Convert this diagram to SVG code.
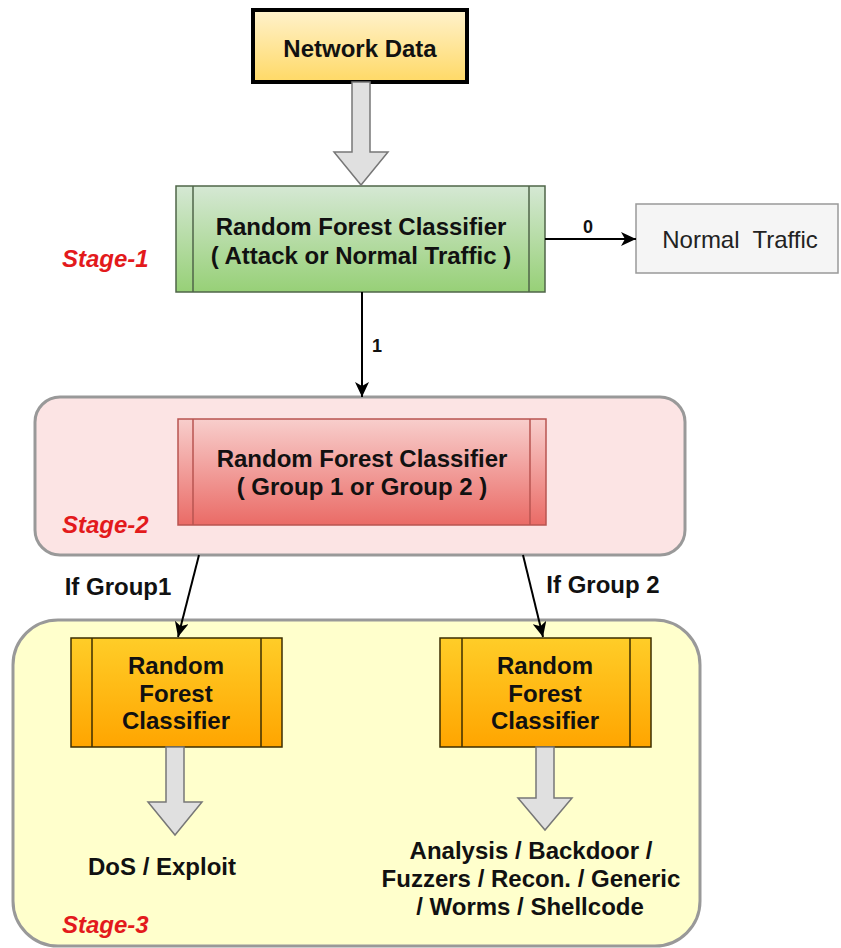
<svg xmlns="http://www.w3.org/2000/svg" width="841" height="948" viewBox="0 0 841 948">
<defs>
<linearGradient id="gYel" x1="0" y1="0" x2="0" y2="1"><stop offset="0" stop-color="#fff2cc"/><stop offset="1" stop-color="#ffd966"/></linearGradient>
<linearGradient id="gGreen" x1="0" y1="0" x2="0" y2="1"><stop offset="0" stop-color="#d5e8d4"/><stop offset="1" stop-color="#97d077"/></linearGradient>
<linearGradient id="gRed" x1="0" y1="0" x2="0" y2="1"><stop offset="0" stop-color="#f8cecc"/><stop offset="1" stop-color="#ea6b66"/></linearGradient>
<linearGradient id="gOrange" x1="0" y1="0" x2="0" y2="1"><stop offset="0" stop-color="#ffcd28"/><stop offset="1" stop-color="#ffa500"/></linearGradient>
<marker id="arr" markerUnits="userSpaceOnUse" markerWidth="16" markerHeight="14" refX="15" refY="7" orient="auto">
<path d="M0,0 L15,7 L0,14 L4,7 Z" fill="#000"/>
</marker>
<style>
text{font-family:"Liberation Sans",Arial,Helvetica,sans-serif;text-anchor:middle;}
.b{font-size:24px;font-weight:bold;fill:#111;}
.r{font-size:24px;fill:#222;}
.stage{font-size:24px;font-weight:bold;font-style:italic;fill:#e31a1c;text-anchor:start;}
.lbl{font-size:18px;font-weight:bold;fill:#111;}
.cont{stroke:#999;stroke-width:3;}
.hollow{fill:#e0e0e0;stroke:#777;stroke-width:1.5;}
.edge{stroke:#000;stroke-width:2;fill:none;marker-end:url(#arr);}
</style>
</defs>

<g id="stage2-container">
<rect class="cont" x="35" y="397" width="650" height="158" rx="25" fill="#fce4e4"/>
<text class="stage" x="62" y="533">Stage-2</text>
</g>
<g id="stage3-container">
<rect class="cont" x="13" y="620" width="687" height="326" rx="45" fill="#ffffcc"/>
<text class="stage" x="62" y="933">Stage-3</text>
</g>

<g id="network-data">
<rect x="253" y="10" width="214" height="72" fill="url(#gYel)" stroke="#000" stroke-width="4"/>
<text class="b" x="360" y="57">Network Data</text>
</g>

<g id="stage1-label">
<text class="stage" x="62" y="267">Stage-1</text>
</g>

<g id="rf1">
<rect x="176" y="186" width="369" height="106" fill="url(#gGreen)" stroke="#4f6548" stroke-width="1.5"/>
<line x1="193" y1="186" x2="193" y2="292" stroke="#4f6548" stroke-width="1.5"/>
<line x1="529" y1="186" x2="529" y2="292" stroke="#4f6548" stroke-width="1.5"/>
<text class="b" x="361" y="235">Random Forest Classifier</text>
<text class="b" x="361" y="264">( Attack or Normal Traffic )</text>
</g>

<g id="normal-traffic">
<rect x="636" y="204" width="202" height="69" fill="#f5f5f5" stroke="#999" stroke-width="1.5"/>
<text class="r" x="740" y="248" xml:space="preserve">Normal  Traffic</text>
</g>

<g id="rf2">
<rect x="178" y="419" width="368" height="106" fill="url(#gRed)" stroke="#b85450" stroke-width="1.5"/>
<line x1="193" y1="419" x2="193" y2="525" stroke="#b85450" stroke-width="1.5"/>
<line x1="530" y1="419" x2="530" y2="525" stroke="#b85450" stroke-width="1.5"/>
<text class="b" x="362" y="467">Random Forest Classifier</text>
<text class="b" x="362" y="495">( Group 1 or Group 2 )</text>
</g>

<g id="rf3a">
<rect x="71" y="638" width="211" height="109" fill="url(#gOrange)" stroke="#3d2e00" stroke-width="1.5"/>
<line x1="92" y1="638" x2="92" y2="747" stroke="#3d2e00" stroke-width="1.5"/>
<line x1="261" y1="638" x2="261" y2="747" stroke="#3d2e00" stroke-width="1.5"/>
<text class="b" x="176" y="674">Random</text>
<text class="b" x="176" y="702">Forest</text>
<text class="b" x="176" y="729">Classifier</text>
</g>

<g id="rf3b">
<rect x="440" y="638" width="211" height="109" fill="url(#gOrange)" stroke="#3d2e00" stroke-width="1.5"/>
<line x1="462" y1="638" x2="462" y2="747" stroke="#3d2e00" stroke-width="1.5"/>
<line x1="630" y1="638" x2="630" y2="747" stroke="#3d2e00" stroke-width="1.5"/>
<text class="b" x="545" y="674">Random</text>
<text class="b" x="545" y="702">Forest</text>
<text class="b" x="545" y="729">Classifier</text>
</g>

<g id="out-a">
<text class="b" x="162" y="875">DoS / Exploit</text>
</g>
<g id="out-b">
<text class="b" x="531" y="859">Analysis / Backdoor /</text>
<text class="b" x="531" y="887">Fuzzers / Recon. / Generic</text>
<text class="b" x="530" y="915">/ Worms / Shellcode</text>
</g>

<g id="connectors">
<polygon class="hollow" points="352,82 370,82 370,152 388,152 361,185 334,152 352,152"/>
<polygon class="hollow" points="166,747 184,747 184,802 202,802 175,835 148,802 166,802"/>
<polygon class="hollow" points="536,747 554,747 554,798 572,798 545,830 518,798 536,798"/>
<line class="edge" x1="545" y1="239" x2="636" y2="239"/>
<text class="lbl" x="588" y="233">0</text>
<line class="edge" x1="362" y1="292" x2="362" y2="397"/>
<text class="lbl" x="377" y="352">1</text>
<line class="edge" x1="199" y1="555" x2="178" y2="637"/>
<text class="b" x="118" y="595">If Group1</text>
<line class="edge" x1="523" y1="555" x2="543" y2="637"/>
<text class="b" x="603" y="593">If Group 2</text>
</g>
</svg>
